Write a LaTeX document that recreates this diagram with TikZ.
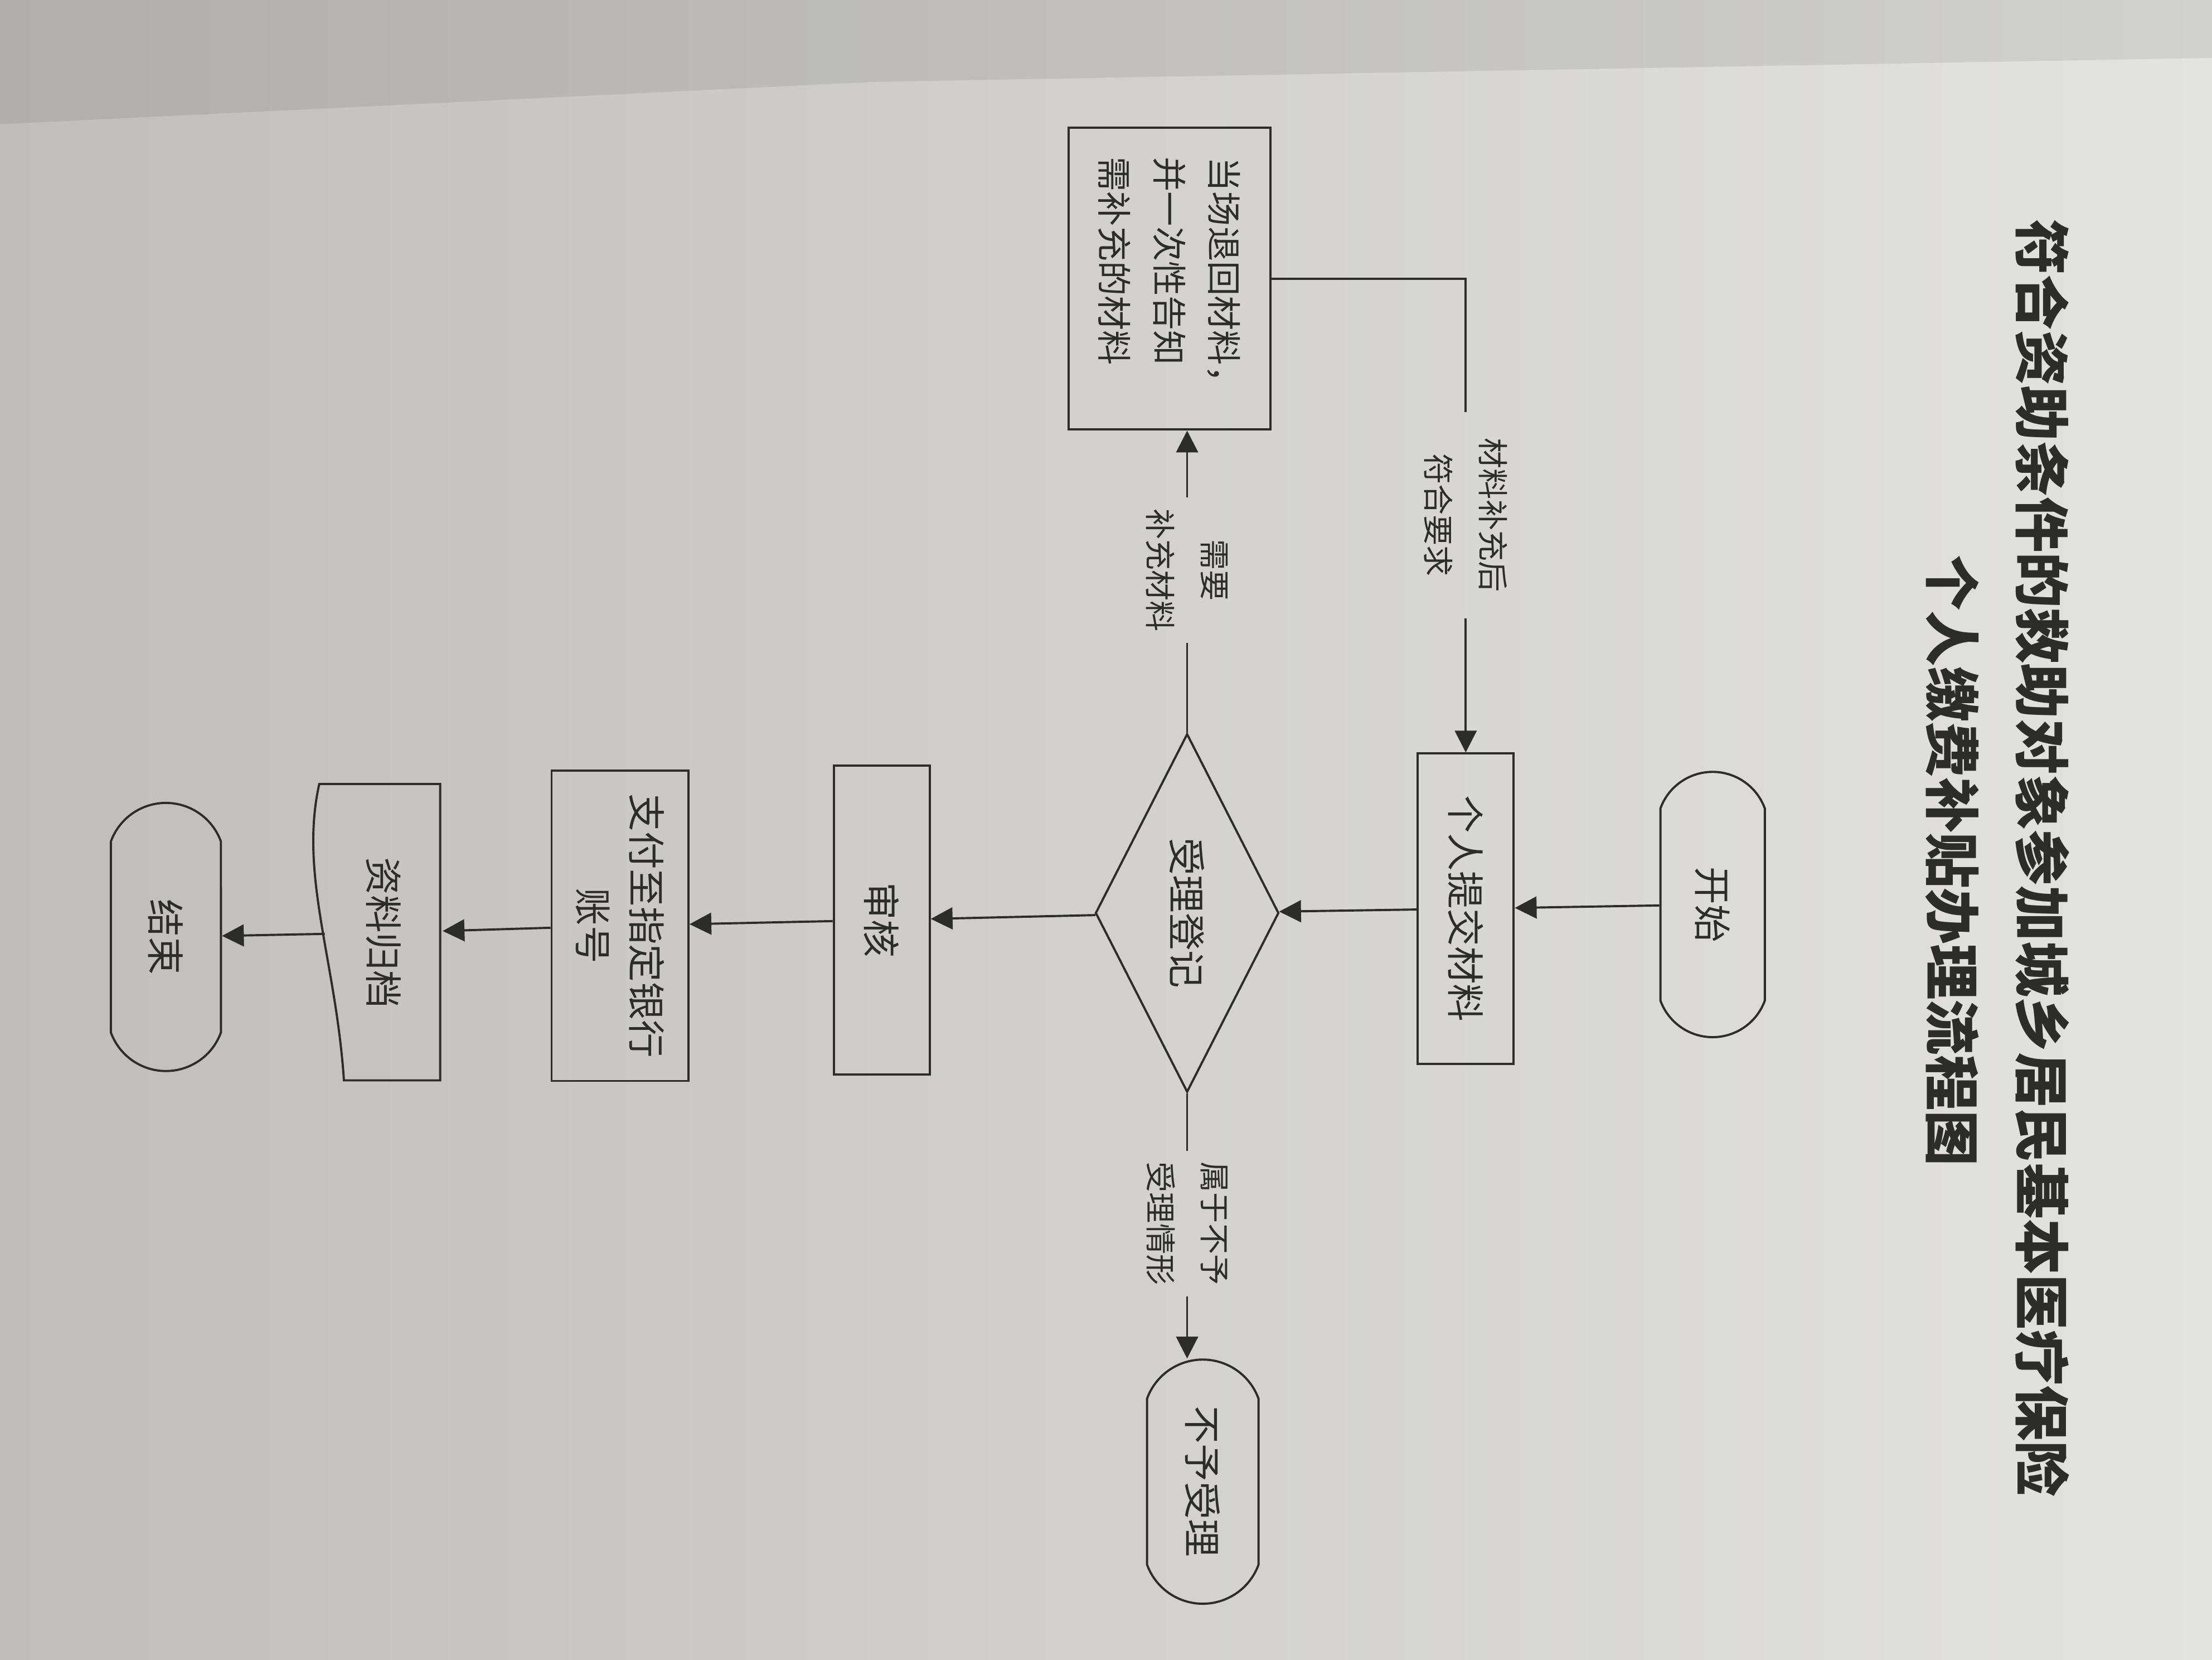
\documentclass[tikz,border=0pt]{standalone}
\usepackage{fontspec}
\setmainfont{Noto Sans CJK SC}
\usetikzlibrary{shapes.geometric,shapes.misc,arrows.meta}
\definecolor{ink}{RGB}{44,44,42}
\definecolor{paperl}{RGB}{192,190,187}
\definecolor{paperr}{RGB}{227,227,225}
\tikzset{
	every node/.style={rotate=-90, text=ink},
	base/.style={draw=ink, line width=1.1pt, inner sep=0pt, align=center, font=\fontsize{19}{27}\selectfont},
	terminal/.style={base, rounded rectangle, rounded rectangle arc length=140},
	procbox/.style={base, rectangle},
	decision/.style={base, diamond, aspect=2},
	flowlab/.style={inner xsep=5.5pt, inner ysep=0pt, align=center, font=\fontsize{15.5}{27.5}\selectfont},
	link/.style={draw=ink, line width=1.1pt},
	arrow/.style={link, -{Triangle[length=11pt,width=11pt]}},
}

\begin{document}
\begin{tikzpicture}[x=0.25mm, y=-0.25mm]
			\useasboundingbox (0,0) rectangle (1568,1176);
			\shade[left color=paperl, right color=paperr] (0,0) rectangle (1568,1176);
			\fill[black, opacity=0.08] (0,0) -- (1568,0) -- (1568,41) -- (620,58) -- (0,88) -- cycle;
			
			% title
			\node[font=\fontsize{28}{34}\selectfont\bfseries] (title1) at (1448,608) {符合资助条件的救助对象参加城乡居民基本医疗保险};
			\node[font=\fontsize{28}{34}\selectfont\bfseries] (title2) at (1384,610) {个人缴费补贴办理流程图};
			
			% main column
			\node[terminal, minimum width=47mm, minimum height=18.5mm] (start) at (1214,641) {开始};
			\node[procbox, minimum width=55mm, minimum height=17mm] (submit) at (1039,644) {个人提交材料};
			\node[decision, minimum width=63.5mm, minimum height=32.5mm] (accept) at (841.5,647) {受理登记};
			\node[procbox, minimum width=54.75mm, minimum height=17mm] (review) at (625,652) {审核};
			\node[procbox, minimum width=55mm, minimum height=24.25mm] (pay) at (439.5,656) {支付至指定银行\\账号};
			\node[base, draw=none, minimum width=52.5mm, minimum height=20.5mm] (archive) at (272,661) {资料归档};
			\draw[link] (312,555.6) -- (312,765.6) -- (243.8,765.6)
				.. controls (238,680) and (212,620) .. (226.3,555.6) -- cycle;
			\node[terminal, minimum width=47.5mm, minimum height=19.5mm] (finish) at (117.6,664) {结束};
			
			% side branches
			\node[terminal, minimum width=43.25mm, minimum height=19.75mm] (reject) at (852.6,1050) {不予受理};
			\node[procbox, minimum width=53.5mm, minimum height=35.75mm, align=left, font=\fontsize{17.5}{27.7}\selectfont] (back) at (829,197.4) {当场退回材料，\\并一次性告知\\需补充的材料};
			
			\node[flowlab] (lab_need) at (841.5,404) {需要\\补充材料};
			\node[flowlab, inner xsep=13pt] (lab_ok) at (1039,365) {材料补充后\\符合要求};
			\node[flowlab] (lab_no) at (841.5,867) {属于不予\\受理情形};
			
			\draw[arrow] (start) -- (submit);
			\draw[arrow] (submit) -- (accept);
			\draw[arrow] (accept) -- (review);
			\draw[arrow] (review) -- (pay);
			\draw[arrow] (pay) -- (archive);
			\draw[arrow] (archive) -- (finish);
			
			\draw[link] (accept.west) -- (lab_need.east);
			\draw[arrow] (lab_need.west) -- (lab_need.west |- back.east);
			\draw[link] (back.north) -| (lab_ok.west);
			\draw[arrow] (lab_ok.east) -- (submit.west);
			\draw[link] (accept.east) -- (lab_no.west);
			\draw[arrow] (lab_no.east) -- (lab_no.east |- reject.west);
\end{tikzpicture}
\end{document}
